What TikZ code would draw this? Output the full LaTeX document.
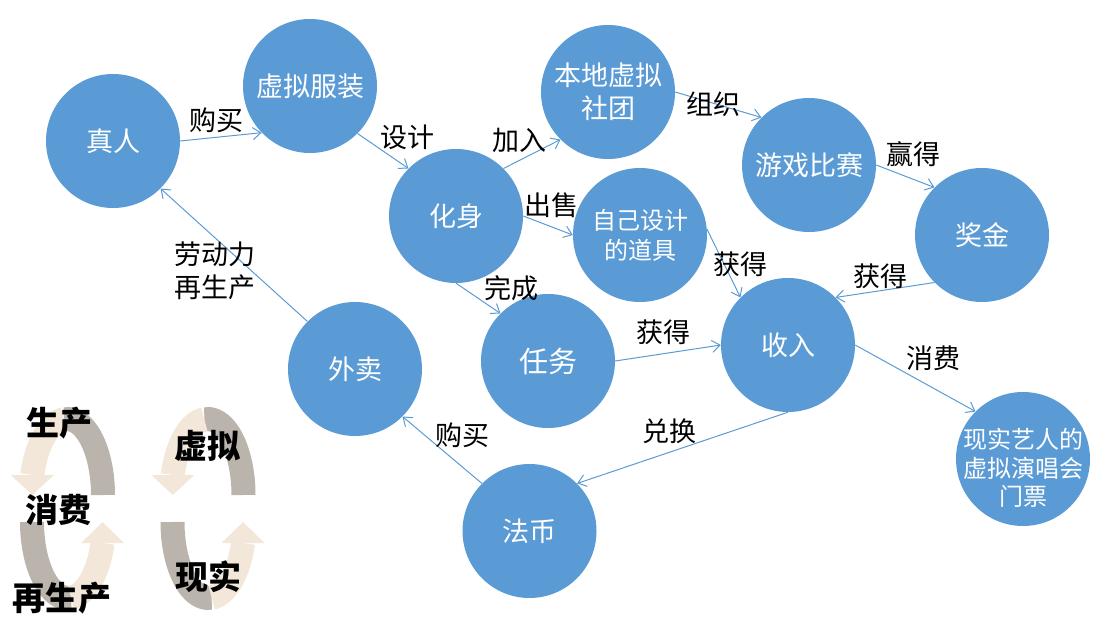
\documentclass[tikz,border=0pt]{standalone}
\usepackage{fontspec}
\newfontfamily\cjk{Noto Sans CJK SC}
\usetikzlibrary{arrows.meta}
\definecolor{bub}{HTML}{5B9BD5}
\definecolor{lgray}{HTML}{BAB4AC}
\definecolor{lcream}{HTML}{F3E7DA}
\begin{document}
\begin{tikzpicture}[x=1pt,y=-1pt,
  bubble/.style={circle,fill=bub,minimum size=134pt,inner sep=0pt,text=white,align=center,
    font=\cjk\fontsize{27pt}{33pt}\selectfont},
  lab/.style={font=\cjk\fontsize{27pt}{33pt}\selectfont,text=black,inner sep=0pt,align=left},
  edge/.style={draw=bub,line width=1pt,-{Straight Barb[length=8pt,width=12pt]}},
  leg/.style={font=\cjk\bfseries\fontsize{33pt}{36pt}\selectfont,inner sep=0pt},
  band/.style={line width=24pt}]
\useasboundingbox (0,0) rectangle (1108,631);

% legend circular arrows
\foreach \dx in {0,140.5}{
\begin{scope}[xshift=\dx pt]
  \draw[band,lgray] (103,495) arc[start angle=0,end angle=-95,x radius=36,y radius=76];
  \draw[band,lcream] (63.86,419.29) arc[start angle=-95,end angle=-164.7,x radius=36,y radius=76];
  \fill[lcream] (10.8,475) -- (53.8,475) -- (32.3,495) -- cycle;
  \draw[band,lgray] (32,522) arc[start angle=180,end angle=85,x radius=36,y radius=76];
  \draw[band,lcream] (71.14,597.71) arc[start angle=85,end angle=16,x radius=36,y radius=76];
  \fill[lcream] (81.1,543) -- (124.1,543) -- (102.6,522) -- cycle;
\end{scope}}

\node[leg] (t1) at (60,423) {生产};
\node[leg] (t2) at (58,510) {消费};
\node[leg] (t3) at (62,598) {再生产};
\node[leg] (t4) at (207,446) {虚拟};
\node[leg] (t5) at (208,577) {现实};

% bubbles
\node[bubble] (zhenren) at (113,141) {真人};
\node[bubble] (fuzhuang) at (310,86) {虚拟服装};
\node[bubble] (huashen) at (456,216) {化身};
\node[bubble] (shetuan) at (608,92) {本地虚拟\\社团};
\node[bubble] (youxi) at (809,165) {游戏比赛};
\node[bubble] (jiangjin) at (982,235) {奖金};
\node[bubble,font=\cjk\fontsize{24pt}{30pt}\selectfont] (daoju) at (640,235) {自己设计\\的道具};
\node[bubble,font=\cjk\fontsize{29pt}{33pt}\selectfont] (renwu) at (548,361) {任务};
\node[bubble] (shouru) at (788,345) {收入};
\node[bubble] (xianshi) at (1023,459) {};
\node[font=\cjk\fontsize{24pt}{28.5pt}\selectfont,text=white,align=center,inner sep=0pt] (xianshitext) at (1023,468) {现实艺人的\\虚拟演唱会\\门票};
\node[bubble] (waimai) at (355,369) {外卖};
\node[bubble] (fabi) at (529.5,531) {法币};

% edges
\draw[edge] (zhenren.0) -- (fuzhuang.224);
\draw[edge] (fuzhuang.-45) -- (huashen.135);
\draw[edge] (huashen.45) -- (shetuan.225);
\draw[edge] (huashen.0) -- (daoju.180);
\draw[edge] (huashen.270) -- (renwu.135);
\draw[edge] (shetuan.0) -- (youxi.135);
\draw[edge] (youxi.0) -- (jiangjin.135);
\draw[edge] (daoju.5) -- (shouru.135);
\draw[edge] (jiangjin.225) -- (shouru.45);
\draw[edge] (renwu.0) -- (shouru.180);
\draw[edge] (shouru.0) -- (xianshi.135);
\draw[edge] (shouru.270) -- (fabi.45);
\draw[edge] (fabi.135) -- (waimai.-45);
\draw[edge] (waimai.135) -- (zhenren.-45);

% edge labels
\node[lab] (l1) at (216,120) {购买};
\node[lab] (l2) at (407,137) {设计};
\node[lab] (l3) at (519,140) {加入};
\node[lab] (l4) at (551,205) {出售};
\node[lab] (l5) at (511,288) {完成};
\node[lab] (l6) at (215,271) {劳动力\\再生产};
\node[lab] (l7) at (713,104) {组织};
\node[lab] (l8) at (913,154) {赢得};
\node[lab] (l9) at (740,264) {获得};
\node[lab] (l10) at (880,276) {获得};
\node[lab] (l11) at (663,332) {获得};
\node[lab] (l12) at (933,358) {消费};
\node[lab] (l13) at (669,431) {兑换};
\node[lab] (l14) at (462,435) {购买};
\end{tikzpicture}
\end{document}
